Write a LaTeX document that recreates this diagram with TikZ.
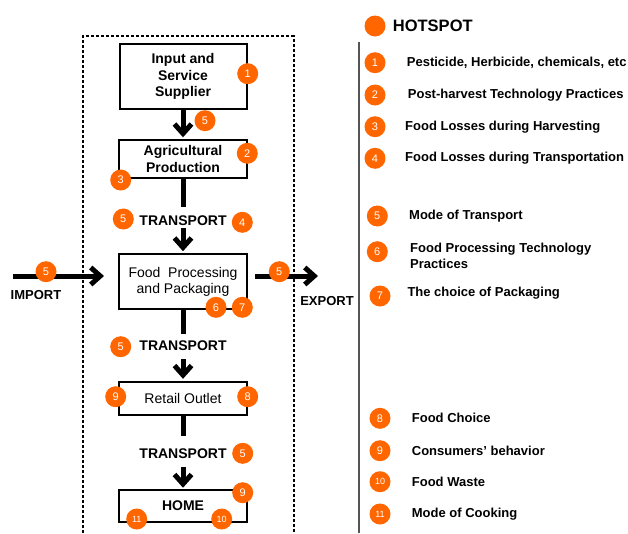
\documentclass[tikz,border=0pt]{standalone}
\usepackage{fontspec}
\setmainfont{Liberation Sans}
\usetikzlibrary{arrows.meta}
\definecolor{hot}{RGB}{255,102,0}
\definecolor{legline}{RGB}{85,85,85}
\begin{document}
\begin{tikzpicture}[x=1pt,y=-1pt,
 stagebox/.style={draw,line width=2pt,minimum width=128pt,align=center,inner sep=0pt,font=\fontsize{14}{16.5}\selectfont},
 boldbox/.style={stagebox,font=\bfseries\fontsize{14}{16.8}\selectfont},
 hs/.style={circle,fill=hot,inner sep=0pt,minimum size=21pt,text=white,font=\fontsize{11}{12}\selectfont},
 hss/.style={hs,font=\fontsize{9}{10}\selectfont},
 flow/.style={line width=5pt,-{Straight Barb[length=9.5pt,width=17pt]}},
 flowline/.style={line width=5pt},
 lbl/.style={font=\bfseries\fontsize{14}{16}\selectfont,inner sep=1pt},
 sidelbl/.style={font=\bfseries\fontsize{13}{15}\selectfont,inner sep=0pt},
 leg/.style={anchor=west,font=\bfseries\fontsize{13}{16}\selectfont,inner sep=0pt,align=left},
 dashedbox/.style={line width=2pt,dash pattern=on 3pt off 2pt},
]
\useasboundingbox (0,0) rectangle (628,533);
\fill[white] (0,0) rectangle (628,533);

% dashed boundary
\draw[dashedbox] (83,533) -- (83,36) -- (293.5,36) -- (293.5,533);

% stages
\node[boldbox,minimum width=127pt,minimum height=65pt] (b1) at (183,76.5) {Input and\\Service\\Supplier};
\node[boldbox,minimum height=38pt] (b2) at (183,159.3) {Agricultural\\Production};
\node[stagebox,minimum height=55pt] (b3) at (183,281.7) {Food\ \ Processing\\and Packaging};
\node[stagebox,minimum height=33pt] (b4) at (183,398.3) {Retail Outlet};
\node[boldbox,minimum height=32pt] (b5) at (183,505.7) {HOME};

% transport labels
\node[lbl] (t1) at (183,221) {TRANSPORT};
\node[lbl] (t2) at (183,346) {TRANSPORT};
\node[lbl] (t3) at (183,454) {TRANSPORT};

% connector coordinates
\coordinate (c1) at (183,207);
\coordinate (s1) at (183,228);
\coordinate (c2) at (183,334);
\coordinate (s2) at (183,359);
\coordinate (c3) at (183,436);
\coordinate (s3) at (183,467);
\coordinate (imA) at (13,276);
\coordinate (imB) at (104,276);
\coordinate (exA) at (255,276);
\coordinate (exB) at (318,276);

% connectors
\draw[flow,shorten >=2pt] (b1.south) -- (b2.north);
\draw[flowline] (b2.south) -- (c1);
\draw[flow,shorten >=2pt] (s1) -- (b3.north);
\draw[flowline] (b3.south) -- (c2);
\draw[flow,shorten >=2pt] (s2) -- (b4.north);
\draw[flowline] (b4.south) -- (c3);
\draw[flow,shorten >=1pt] (s3) -- (b5.north);
\draw[flow] (imA) -- (imB);
\draw[flow] (exA) -- (exB);

\node[sidelbl] (imp) at (36,295) {IMPORT};
\node[sidelbl] (exp) at (327,301) {EXPORT};

% hotspots in diagram
\node[hs] (h1) at (247.7,73.7) {1};
\node[hs] (h5a) at (205,120.7) {5};
\node[hs] (h2) at (247.3,153.3) {2};
\node[hs] (h3) at (120.7,180) {3};
\node[hs] (h5b) at (123.3,219) {5};
\node[hs] (h4) at (242.3,222.3) {4};
\node[hs] (h5c) at (46,271.7) {5};
\node[hs] (h5d) at (279.3,271.7) {5};
\node[hs] (h6) at (216,307.3) {6};
\node[hs] (h7) at (242.3,307.3) {7};
\node[hs] (h5e) at (120.7,346.7) {5};
\node[hs] (h9a) at (115.7,396.7) {9};
\node[hs] (h8) at (247.7,396.7) {8};
\node[hs] (h5f) at (242.7,453.3) {5};
\node[hs] (h9b) at (242.7,492.7) {9};
\node[hss] (h11) at (136.7,519) {11};
\node[hss] (h10) at (221.7,519) {10};

% legend
\node[hs] (lh) at (375,26) {};
\node[anchor=west,font=\bfseries\fontsize{16.5}{18}\selectfont,inner sep=0pt] (lht) at (392.7,26) {HOTSPOT};
\coordinate (vlA) at (359,42);
\coordinate (vlB) at (359,533);
\draw[legline,line width=1.6pt] (vlA) -- (vlB);

\node[hs] (l1) at (375,62.7) {1};
\node[leg] (lt1) at (406.7,62.7) {Pesticide, Herbicide, chemicals, etc};
\node[hs] (l2) at (375,95) {2};
\node[leg] (lt2) at (407.7,95) {Post-harvest Technology Practices};
\node[hs] (l3) at (375,126.7) {3};
\node[leg] (lt3) at (405,126.7) {Food Losses during Harvesting};
\node[hs] (l4) at (375,158.3) {4};
\node[leg] (lt4) at (405,158.3) {Food Losses during Transportation};
\node[hs] (l5) at (377.3,216) {5};
\node[leg] (lt5) at (409,216) {Mode of Transport};
\node[hs] (l6) at (377.3,251.7) {6};
\node[leg] (lt6) at (410,256.3) {Food Processing Technology\\Practices};
\node[hs] (l7) at (380,296) {7};
\node[leg] (lt7) at (407.3,293.3) {The choice of Packaging};
\node[hs] (l8) at (380,418.3) {8};
\node[leg] (lt8) at (411.7,418.3) {Food Choice};
\node[hs] (l9) at (380,450.7) {9};
\node[leg] (lt9) at (411.7,450.7) {Consumers’ behavior};
\node[hss] (l10) at (380,481.7) {10};
\node[leg] (lt10) at (411.7,481.7) {Food Waste};
\node[hss] (l11) at (380,514) {11};
\node[leg] (lt11) at (411.7,514) {Mode of Cooking};
\end{tikzpicture}
\end{document}
